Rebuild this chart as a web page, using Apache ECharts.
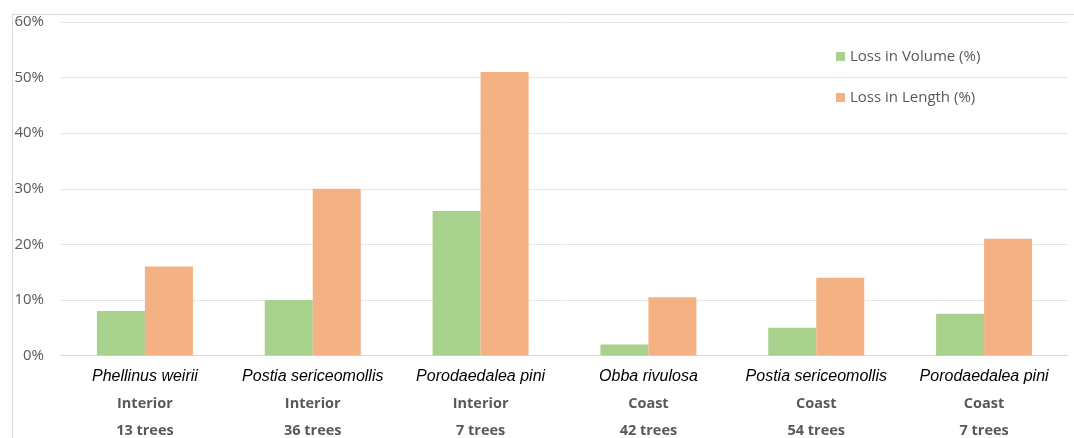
<!DOCTYPE html>
<html>
<head>
<meta charset="utf-8">
<script src="https://cdn.jsdelivr.net/npm/echarts@6/dist/echarts.min.js"></script>
<style>
  html, body { margin: 0; padding: 0; background: #ffffff; }
  #chart { width: 1074px; height: 438px; }
</style>
</head>
<body>
<div id="chart"></div>
<script>
// Decay loss by fungus species, region and sample size
const species = ['Phellinus weirii', 'Postia sericeomollis', 'Porodaedalea pini', 'Obba rivulosa', 'Postia sericeomollis', 'Porodaedalea pini'];
const regions = ['Interior', 'Interior', 'Interior', 'Coast', 'Coast', 'Coast'];
const treeCounts = ['13 trees', '36 trees', '7 trees', '42 trees', '54 trees', '7 trees'];
const lossVolume = [8, 10, 26, 2, 5, 7.5];
const lossLength = [16, 30, 51, 10.5, 14, 21];
const yTicks = [0, 10, 20, 30, 40, 50, 60];

const categories = species.map((s, i) => s + '|' + regions[i] + '|' + treeCounts[i]);

const chart = echarts.init(document.getElementById('chart'), null, { renderer: 'canvas' });

chart.setOption({
  animation: false,
  backgroundColor: '#ffffff',
  graphic: [{
    type: 'rect',
    left: 10, top: 12,
    shape: { width: 1062, height: 440 },
    style: { fill: 'none', stroke: '#d9d9d9', lineWidth: 1 },
    silent: true
  }],
  grid: { left: 61, right: 6, top: 22, bottom: 82, containLabel: false },
  legend: {
    orient: 'vertical',
    left: 831, top: 44,
    itemWidth: 9, itemHeight: 9,
    itemGap: 26,
    icon: 'rect',
    textStyle: { fontFamily: 'Open Sans', fontSize: 15, color: '#595959' },
    data: ['Loss in Volume (%)', 'Loss in Length (%)']
  },
  xAxis: {
    type: 'category',
    data: categories,
    axisLine: { show: true, lineStyle: { color: '#d9d9d9', width: 1 } },
    axisTick: { show: false },
    axisLabel: {
      interval: 0,
      margin: 8,
      formatter: function (v) {
        const p = v.split('|');
        return '{sp|' + p[0] + '}\n{rg|' + p[1] + '}\n{tr|' + p[2] + '}';
      },
      rich: {
        sp: { fontFamily: 'Liberation Sans', fontStyle: 'italic', fontSize: 16, color: '#000000', lineHeight: 26 },
        rg: { fontFamily: 'Open Sans', fontWeight: 'bold', fontSize: 14.5, color: '#595959', lineHeight: 28 },
        tr: { fontFamily: 'Open Sans', fontWeight: 'bold', fontSize: 14.5, color: '#595959', lineHeight: 26 }
      }
    }
  },
  yAxis: {
    type: 'value',
    min: yTicks[0], max: yTicks[yTicks.length - 1], interval: 10,
    axisLine: { show: false },
    axisTick: { show: false },
    splitLine: { lineStyle: { color: '#e6e6e6', width: 1 } },
    axisLabel: {
      margin: 17,
      formatter: '{value}%',
      fontFamily: 'Open Sans',
      fontSize: 15,
      color: '#595959'
    }
  },
  series: [
    {
      name: 'Loss in Volume (%)',
      type: 'bar',
      data: lossVolume,
      barWidth: 48,
      barGap: '0%',
      itemStyle: { color: '#A9D18E' }
    },
    {
      name: 'Loss in Length (%)',
      type: 'bar',
      data: lossLength,
      barWidth: 48,
      barGap: '0%',
      itemStyle: { color: '#F4B183' }
    }
  ]
});
</script>
</body>
</html>
